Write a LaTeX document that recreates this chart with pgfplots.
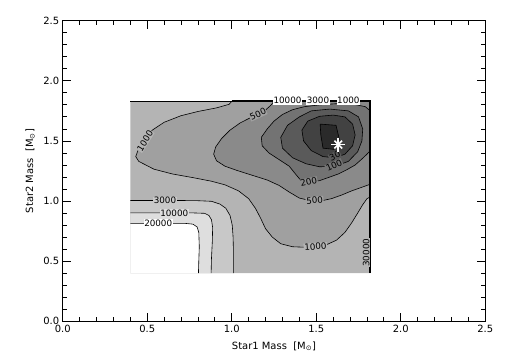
\documentclass[border=0pt]{standalone}
\usepackage{fontspec}
\setmainfont{DejaVu Sans}
\usepackage{pgfplots}
\pgfplotsset{compat=1.18}
\definecolor{cA}{HTML}{2A2A2A}
\definecolor{cB}{HTML}{424242}
\definecolor{cC}{HTML}{5A5A5A}
\definecolor{cD}{HTML}{737373}
\definecolor{cE}{HTML}{8A8A8A}
\definecolor{cF}{HTML}{A0A0A0}
\definecolor{cG}{HTML}{B4B4B4}
\definecolor{cH}{HTML}{C8C8C8}
\definecolor{cI}{HTML}{DEDEDE}
\tikzset{lbl/.style={font=\fontsize{8.8}{9}\selectfont, inner sep=0.6bp}}
\begin{document}
\begin{tikzpicture}
\useasboundingbox (-62.7bp,-39.7bp) rectangle (442.3bp,321.3bp);
\begin{axis}[
  scale only axis, width=422.6bp, height=300.6bp,
  xmin=0, xmax=2.5, ymin=0, ymax=2.5,
  xtick={0,0.5,1,1.5,2,2.5}, ytick={0,0.5,1,1.5,2,2.5},
  minor tick num=4,
  major tick length=8bp, minor tick length=4.5bp,
  tick style={black, line width=0.8bp},
  axis line style={line width=0.9bp},
  xticklabel={\pgfmathprintnumber[fixed,fixed zerofill,precision=1,assume math mode=true]{\tick}},
  yticklabel={\pgfmathprintnumber[fixed,fixed zerofill,precision=1,assume math mode=true]{\tick}},
  ticklabel style={font=\fontsize{10}{11}\selectfont},
  xlabel={Star1 Mass\ \ [M\textsubscript{⊙}]},
  ylabel={Star2 Mass\ \ [M\textsubscript{⊙}]},
  label style={font=\fontsize{10}{11}\selectfont},
  xlabel style={at={(axis description cs:0.5,-0.083)}, anchor=center},
  ylabel style={at={(axis description cs:-0.077,0.5)}, anchor=center},
  clip=false,
]
% ---- filled regions ----
\addplot[draw=none, fill=cG] coordinates {(0.4,0.4)(1.82,0.4)(1.82,1.83)(0.4,1.83)(0.4,0.4)};
% 3000
\addplot[draw=none, fill=cH] coordinates {(0.4,0.4)(0.4,1.005)(0.53,1.005)(0.68,1.005)(0.80,1.003)(0.88,0.998)(0.93,0.975)(0.965,0.94)(0.99,0.88)(1.003,0.80)(1.008,0.70)(1.01,0.58)(1.01,0.4)(0.4,0.4)};
% 10000
\addplot[draw=none, fill=cI] coordinates {(0.4,0.4)(0.4,0.902)(0.60,0.902)(0.76,0.902)(0.84,0.898)(0.865,0.88)(0.88,0.845)(0.887,0.78)(0.885,0.66)(0.88,0.52)(0.878,0.4)(0.4,0.4)};
% 20000
\addplot[draw=none, fill=white] coordinates {(0.4,0.4)(0.4,0.815)(0.56,0.815)(0.72,0.815)(0.77,0.808)(0.795,0.785)(0.805,0.74)(0.808,0.62)(0.805,0.5)(0.803,0.4)(0.4,0.4)};
% 1000
\addplot[draw=none, fill=cF] coordinates {(1.00,1.83)(0.985,1.805)(0.91,1.775)(0.80,1.745)(0.70,1.71)(0.60,1.655)(0.53,1.59)(0.48,1.50)(0.445,1.42)(0.432,1.37)(0.45,1.33)(0.54,1.265)(0.65,1.225)(0.77,1.195)(0.88,1.165)(0.96,1.135)(1.04,1.085)(1.10,1.02)(1.14,0.94)(1.17,0.86)(1.20,0.77)(1.24,0.70)(1.29,0.645)(1.36,0.62)(1.45,0.615)(1.55,0.63)(1.62,0.675)(1.67,0.74)(1.71,0.82)(1.745,0.90)(1.775,0.97)(1.80,1.02)(1.82,1.035)(1.82,1.83)(1.00,1.83)};
% 500
\addplot[draw=none, fill=cE] coordinates {(1.25,1.83)(1.23,1.795)(1.19,1.745)(1.12,1.70)(1.05,1.65)(0.99,1.59)(0.94,1.52)(0.905,1.45)(0.893,1.39)(0.91,1.335)(0.96,1.29)(1.03,1.255)(1.12,1.215)(1.21,1.175)(1.28,1.13)(1.34,1.075)(1.40,1.025)(1.46,1.005)(1.53,1.002)(1.59,1.02)(1.65,1.05)(1.71,1.085)(1.76,1.11)(1.82,1.14)(1.82,1.83)(1.25,1.83)};
% 200
\addplot[draw=none, fill=cD] coordinates {(1.82,1.75)(1.79,1.785)(1.72,1.805)(1.62,1.81)(1.52,1.80)(1.43,1.785)(1.36,1.76)(1.30,1.72)(1.25,1.665)(1.21,1.60)(1.175,1.53)(1.18,1.46)(1.22,1.40)(1.28,1.345)(1.34,1.29)(1.38,1.22)(1.41,1.17)(1.46,1.155)(1.52,1.17)(1.58,1.20)(1.63,1.225)(1.68,1.26)(1.73,1.30)(1.77,1.35)(1.80,1.39)(1.82,1.42)(1.82,1.75)};
% 100
\addplot[draw=none, fill=cC] coordinates {(1.40,1.70)(1.47,1.75)(1.58,1.765)(1.69,1.75)(1.75,1.70)(1.775,1.60)(1.77,1.50)(1.745,1.41)(1.69,1.33)(1.61,1.29)(1.52,1.285)(1.44,1.31)(1.36,1.36)(1.30,1.44)(1.29,1.53)(1.33,1.63)(1.40,1.70)};
% 30
\addplot[draw=none, fill=cB] coordinates {(1.45,1.665)(1.52,1.705)(1.60,1.715)(1.67,1.70)(1.715,1.64)(1.73,1.55)(1.715,1.46)(1.67,1.39)(1.61,1.36)(1.54,1.37)(1.47,1.42)(1.425,1.50)(1.415,1.59)(1.45,1.665)};
% innermost
\addplot[draw=none, fill=cA] coordinates {(1.523,1.64)(1.617,1.63)(1.637,1.51)(1.605,1.43)(1.54,1.44)(1.527,1.55)(1.523,1.64)};
% ---- contour lines ----
\addplot[black, line width=0.6bp] coordinates {(0.4,1.005)(0.53,1.005)(0.68,1.005)(0.80,1.003)(0.88,0.998)(0.93,0.975)(0.965,0.94)(0.99,0.88)(1.003,0.80)(1.008,0.70)(1.01,0.58)(1.01,0.4)};
\addplot[black, line width=0.6bp] coordinates {(0.4,0.902)(0.60,0.902)(0.76,0.902)(0.84,0.898)(0.865,0.88)(0.88,0.845)(0.887,0.78)(0.885,0.66)(0.88,0.52)(0.878,0.4)};
\addplot[black, line width=0.6bp] coordinates {(0.4,0.815)(0.56,0.815)(0.72,0.815)(0.77,0.808)(0.795,0.785)(0.805,0.74)(0.808,0.62)(0.805,0.5)(0.803,0.4)};
\addplot[black, line width=0.6bp] coordinates {(1.00,1.83)(0.985,1.805)(0.91,1.775)(0.80,1.745)(0.70,1.71)(0.60,1.655)(0.53,1.59)(0.48,1.50)(0.445,1.42)(0.432,1.37)(0.45,1.33)(0.54,1.265)(0.65,1.225)(0.77,1.195)(0.88,1.165)(0.96,1.135)(1.04,1.085)(1.10,1.02)(1.14,0.94)(1.17,0.86)(1.20,0.77)(1.24,0.70)(1.29,0.645)(1.36,0.62)(1.45,0.615)(1.55,0.63)(1.62,0.675)(1.67,0.74)(1.71,0.82)(1.745,0.90)(1.775,0.97)(1.80,1.02)(1.82,1.035)};
\addplot[black, line width=0.6bp] coordinates {(1.25,1.83)(1.23,1.795)(1.19,1.745)(1.12,1.70)(1.05,1.65)(0.99,1.59)(0.94,1.52)(0.905,1.45)(0.893,1.39)(0.91,1.335)(0.96,1.29)(1.03,1.255)(1.12,1.215)(1.21,1.175)(1.28,1.13)(1.34,1.075)(1.40,1.025)(1.46,1.005)(1.53,1.002)(1.59,1.02)(1.65,1.05)(1.71,1.085)(1.76,1.11)(1.82,1.14)};
\addplot[black, line width=0.6bp] coordinates {(1.82,1.75)(1.79,1.785)(1.72,1.805)(1.62,1.81)(1.52,1.80)(1.43,1.785)(1.36,1.76)(1.30,1.72)(1.25,1.665)(1.21,1.60)(1.175,1.53)(1.18,1.46)(1.22,1.40)(1.28,1.345)(1.34,1.29)(1.38,1.22)(1.41,1.17)(1.46,1.155)(1.52,1.17)(1.58,1.20)(1.63,1.225)(1.68,1.26)(1.73,1.30)(1.77,1.35)(1.80,1.39)(1.82,1.42)};
\addplot[black, line width=0.6bp] coordinates {(1.40,1.70)(1.47,1.75)(1.58,1.765)(1.69,1.75)(1.75,1.70)(1.775,1.60)(1.77,1.50)(1.745,1.41)(1.69,1.33)(1.61,1.29)(1.52,1.285)(1.44,1.31)(1.36,1.36)(1.30,1.44)(1.29,1.53)(1.33,1.63)(1.40,1.70)};
\addplot[black, line width=0.6bp] coordinates {(1.45,1.665)(1.52,1.705)(1.60,1.715)(1.67,1.70)(1.715,1.64)(1.73,1.55)(1.715,1.46)(1.67,1.39)(1.61,1.36)(1.54,1.37)(1.47,1.42)(1.425,1.50)(1.415,1.59)(1.45,1.665)};
\addplot[black, line width=0.6bp] coordinates {(1.523,1.64)(1.617,1.63)(1.637,1.51)(1.605,1.43)(1.54,1.44)(1.527,1.55)(1.523,1.64)};
% edges
\addplot[black, line width=0.6bp] coordinates {(0.4,1.83)(1.0,1.83)};
\addplot[black, line width=2.4bp] coordinates {(1.0,1.83)(1.818,1.83)(1.818,0.4)};
% ---- labels ----
\node[lbl, fill=cG, rotate=58] at (axis cs:0.487,1.50) {1000};
\node[lbl, fill=cF, rotate=25] at (axis cs:1.155,1.722) {500};
\node[lbl, fill=cH] at (axis cs:0.605,1.005) {3000};
\node[lbl, fill=cI] at (axis cs:0.66,0.902) {10000};
\node[lbl, fill=white] at (axis cs:0.565,0.815) {20000};
\node[lbl, fill=cG, rotate=4] at (axis cs:1.495,0.62) {1000};
\node[lbl, fill=cF, rotate=5] at (axis cs:1.49,1.005) {500};
\node[lbl, fill=cE, rotate=12] at (axis cs:1.455,1.16) {200};
\node[lbl, fill=cD, rotate=25] at (axis cs:1.605,1.297) {100};
\node[lbl, fill=cC, rotate=25] at (axis cs:1.61,1.375) {30};
\node[lbl, fill=cG, rotate=90] at (axis cs:1.795,0.57) {30000};
\node[lbl, fill=white] at (axis cs:1.33,1.835) {10000};
\node[lbl, fill=white] at (axis cs:1.51,1.835) {3000};
\node[lbl, fill=white] at (axis cs:1.69,1.835) {1000};
% ---- best fit star ----
\addplot[only marks, white, mark=+, mark size=7bp, line width=1.6bp] coordinates {(1.63,1.47)};
\addplot[only marks, white, mark=x, mark size=5.5bp, line width=1.6bp] coordinates {(1.63,1.47)};
\end{axis}
\end{tikzpicture}
\end{document}
